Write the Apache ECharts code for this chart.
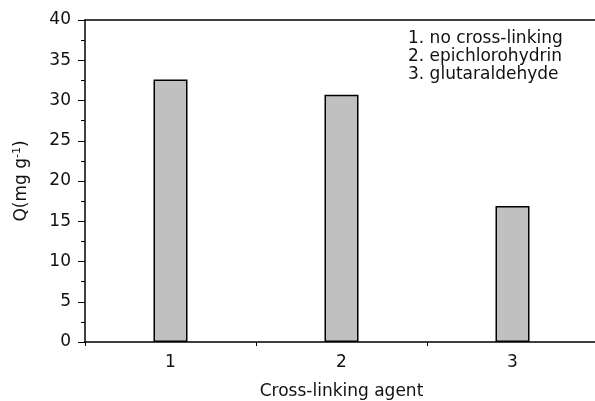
<!DOCTYPE html>
<html>
<head>
<meta charset="utf-8">
<script src="https://cdn.jsdelivr.net/npm/echarts@6/dist/echarts.min.js"></script>
<style>
  html, body { margin: 0; padding: 0; background: #fff; }
  #chart { width: 595px; height: 401px; }
</style>
</head>
<body>
<div id="chart"></div>
<script>
// Adsorption capacity for each cross-linking agent
const categories = ['1', '2', '3'];
const capacity = [32.6, 30.7, 16.9];
const agentNotes = ['1. no cross-linking', '2. epichlorohydrin', '3. glutaraldehyde'];
const yTicks = [0, 5, 10, 15, 20, 25, 30, 35, 40];

const FONT = '"DejaVu Sans", "Liberation Sans", Arial, sans-serif';
const FS = 17;
const chart = echarts.init(document.getElementById('chart'), null, { renderer: 'canvas' });

chart.setOption({
  animation: false,
  backgroundColor: '#fff',
  grid: { left: 85, top: 20, width: 513, bottom: 59, containLabel: false, outerBoundsMode: 'none' },
  xAxis: [{
    type: 'category',
    data: categories,
    position: 'bottom',
    boundaryGap: true,
    name: 'Cross-linking agent',
    nameLocation: 'middle',
    nameGap: 41,
    nameTextStyle: { fontFamily: FONT, fontSize: FS, color: '#111' },
    axisLine: { show: true, lineStyle: { color: '#000', width: 1.5 } },
    axisTick: { show: true, inside: false, length: 4, lineStyle: { color: '#000', width: 1 } },
    axisLabel: { fontFamily: FONT, fontSize: FS, color: '#111', margin: 12 },
    splitLine: { show: false }
  }, {
    type: 'category',
    data: categories,
    position: 'top',
    axisLine: { show: true, lineStyle: { color: '#000', width: 1.5 } },
    axisTick: { show: false },
    axisLabel: { show: false },
    splitLine: { show: false }
  }],
  yAxis: {
    type: 'value',
    min: yTicks[0],
    max: yTicks[yTicks.length - 1],
    interval: 5,
    name: 'Q(mg g{sup|-1})',
    nameLocation: 'middle',
    nameRotate: 90,
    nameGap: 54,
    nameTextStyle: {
      fontFamily: FONT, fontSize: FS, color: '#111',
      rich: { sup: { fontFamily: FONT, fontSize: 11, color: '#111', verticalAlign: 'top', padding: [0, 0, 8, 0] } }
    },
    axisLine: { show: true, lineStyle: { color: '#000', width: 1.5 } },
    axisTick: { show: true, inside: false, length: 7, lineStyle: { color: '#000', width: 1 } },
    minorTick: { show: true, splitNumber: 2, length: 4, lineStyle: { color: '#000', width: 1 } },
    axisLabel: { fontFamily: FONT, fontSize: FS, color: '#111', margin: 14 },
    splitLine: { show: false }
  },
  series: [{
    type: 'bar',
    data: capacity,
    barWidth: 34,
    itemStyle: { color: '#c0c0c0', borderColor: '#000', borderWidth: 1.5 }
  }],
  graphic: agentNotes.map((t, i) => ({
    type: 'text',
    left: 408,
    top: 30 + i * 18,
    style: { text: t, fontFamily: FONT, fontSize: FS, fill: '#111' }
  }))
});
</script>
</body>
</html>
